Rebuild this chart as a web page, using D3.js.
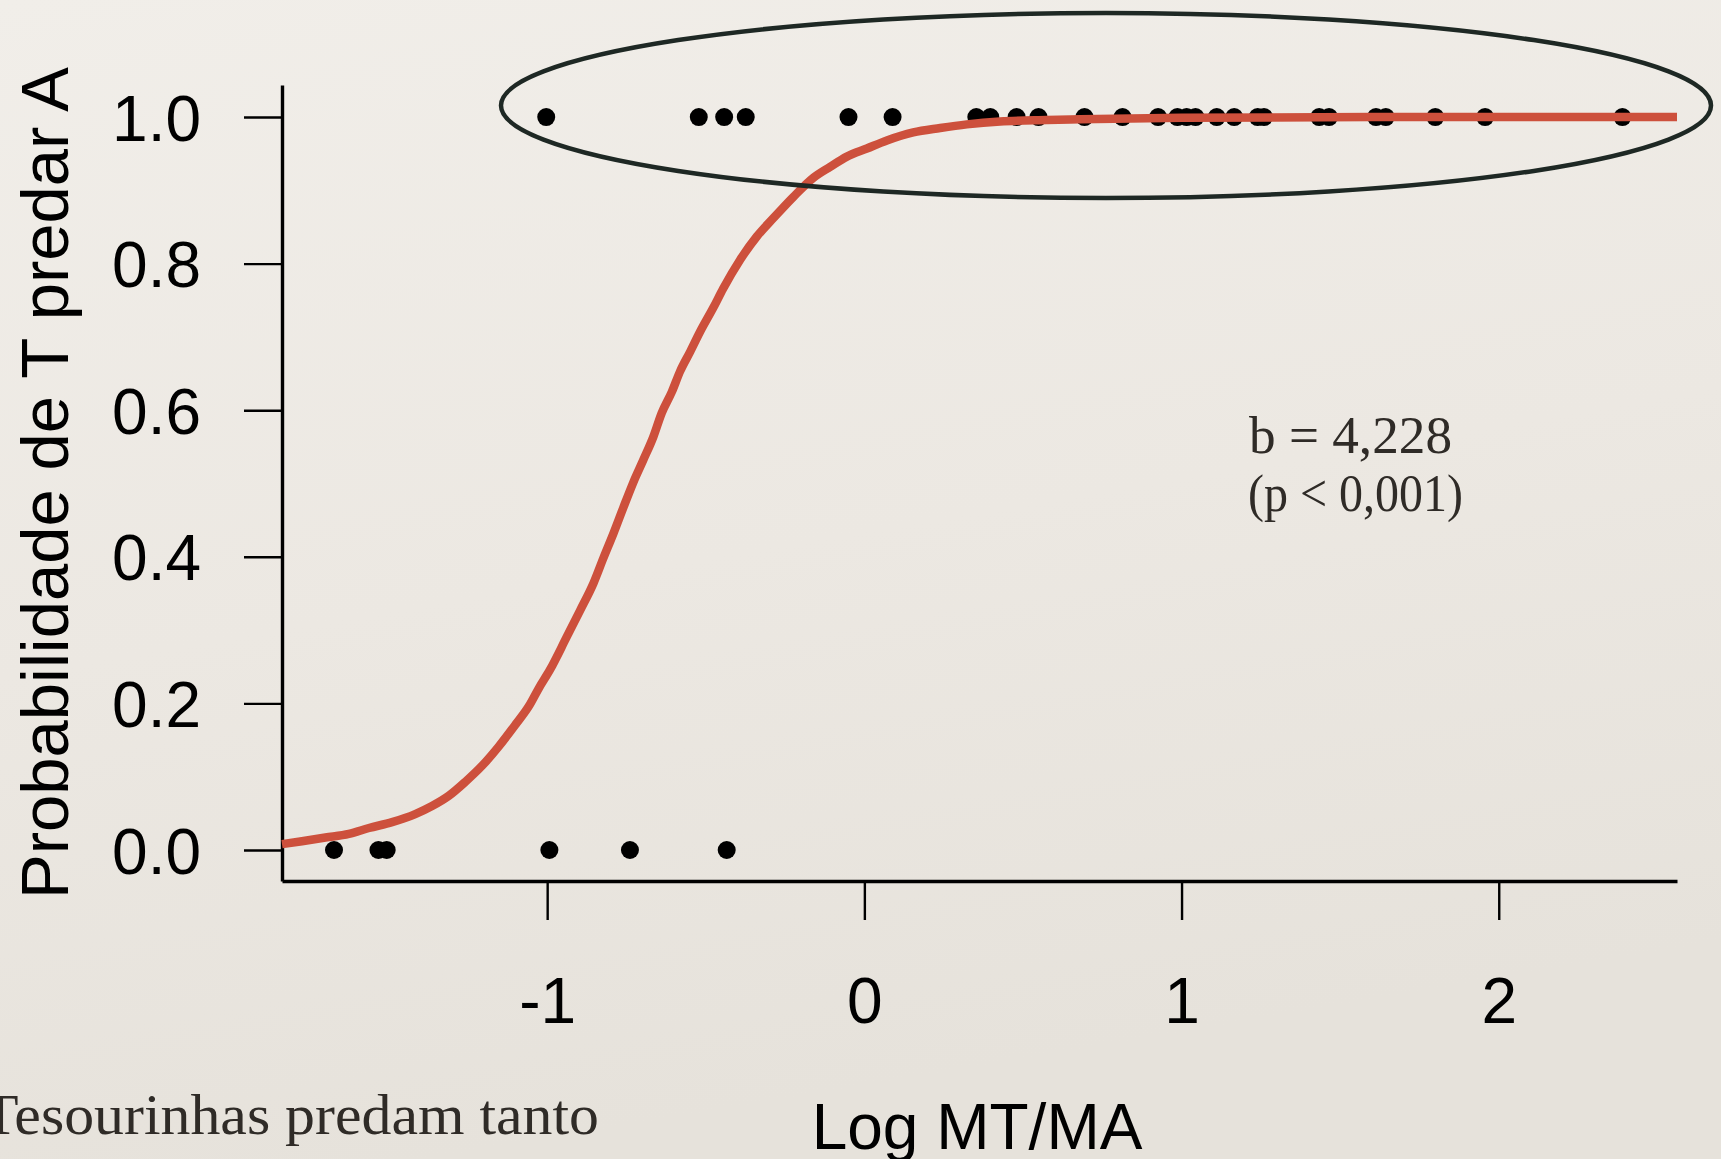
<!DOCTYPE html>
<html>
<head>
<meta charset="utf-8">
<script src="https://cdn.jsdelivr.net/npm/d3@7"></script>
<style>
  html, body { margin: 0; padding: 0; overflow: hidden; }
  body { width: 1721px; height: 1159px; }
</style>
</head>
<body>
<svg id="chart" width="1721" height="1159"></svg>
<script>
// ---- data ----
const pointsAtOne = [-1.003, -0.522, -0.442, -0.374, -0.050, 0.089, 0.353, 0.397, 0.480, 0.549,
  0.694, 0.814, 0.926, 0.987, 1.016, 1.044, 1.111, 1.166, 1.240, 1.260, 1.434, 1.465,
  1.613, 1.644, 1.800, 1.957, 2.390];
const pointsAtZero = [-1.672, -1.532, -1.506, -0.993, -0.739, -0.434];

const curveX = [-1.836, -1.773, -1.699, -1.625, -1.562, -1.489, -1.416, -1.363, -1.310, -1.258,
  -1.205, -1.153, -1.100, -1.058, -1.026, -0.991, -0.938, -0.896, -0.854, -0.823, -0.791,
  -0.760, -0.728, -0.697, -0.665, -0.639, -0.607, -0.581, -0.549, -0.518, -0.476, -0.445,
  -0.392, -0.339, -0.287, -0.224, -0.161, -0.108, -0.055, 0.008, 0.071, 0.154, 0.239,
  0.323, 0.428, 0.575, 0.680, 1.000, 1.600, 2.562];
const curveY = [0.008, 0.012, 0.017, 0.022, 0.030, 0.038, 0.049, 0.060, 0.074, 0.093,
  0.115, 0.141, 0.171, 0.196, 0.221, 0.246, 0.291, 0.327, 0.364, 0.398, 0.432,
  0.467, 0.502, 0.532, 0.564, 0.596, 0.625, 0.653, 0.680, 0.707, 0.740, 0.766,
  0.805, 0.837, 0.862, 0.891, 0.917, 0.932, 0.946, 0.957, 0.968, 0.979, 0.985,
  0.990, 0.994, 0.996, 0.997, 0.999, 1.000, 1.000];

const xTicks = [-1, 0, 1, 2];
const yTicks = [0, 0.2, 0.4, 0.6, 0.8, 1.0];
const yTickLabels = ["0.0", "0.2", "0.4", "0.6", "0.8", "1.0"];

const xTitle = "Log MT/MA";
const yTitle = "Probabilidade de T predar A";
const statLines = ["b = 4,228", "(p < 0,001)"];
const footText = "Tesourinhas predam tanto";

// ---- drawing ----
const svg = d3.select("#chart");
const W = 1721, H = 1159;

const defs = svg.append("defs");
const grad = defs.append("linearGradient").attr("id", "bg")
  .attr("x1", "0").attr("y1", "0").attr("x2", "0.25").attr("y2", "1");
grad.append("stop").attr("offset", "0%").attr("stop-color", "#f1eee9");
grad.append("stop").attr("offset", "55%").attr("stop-color", "#ece8e2");
grad.append("stop").attr("offset", "100%").attr("stop-color", "#e6e2db");
svg.append("rect").attr("width", W).attr("height", H).attr("fill", "url(#bg)");

const x = d3.scaleLinear().domain([-1.836, 2.562]).range([282, 1677]);
const y = d3.scaleLinear().domain([-0.0423, 1.0437]).range([881, 85]);

// axes
const yAxis = d3.axisLeft(y).tickValues(yTicks)
  .tickFormat((d, i) => yTickLabels[i]).tickSizeInner(38).tickSizeOuter(0).tickPadding(43);
const gy = svg.append("g").attr("transform", "translate(282,0)").call(yAxis);
gy.selectAll("text").attr("font-family", "Liberation Sans, Arial, sans-serif")
  .attr("font-size", 64).attr("fill", "#000").attr("dy", "0.36em");
gy.selectAll(".tick line").attr("stroke", "#000").attr("stroke-width", 2.4);
gy.select(".domain").attr("stroke", "#000").attr("stroke-width", 3.4);

const xAxis = d3.axisBottom(x).tickValues(xTicks)
  .tickFormat(d3.format("d")).tickSizeInner(39).tickSizeOuter(0).tickPadding(58);
const gx = svg.append("g").attr("transform", "translate(0,881)").call(xAxis);
gx.selectAll("text").attr("font-family", "Liberation Sans, Arial, sans-serif")
  .attr("font-size", 64).attr("fill", "#000").text(d => d < 0 ? "-" + Math.abs(d) : d);
gx.selectAll(".tick line").attr("stroke", "#000").attr("stroke-width", 2.4);
gx.select(".domain").attr("stroke", "#000").attr("stroke-width", 3.4);

// titles
svg.append("text").attr("x", 977).attr("y", 1149).attr("text-anchor", "middle")
  .attr("font-family", "Liberation Sans, Arial, sans-serif").attr("font-size", 64)
  .attr("fill", "#000").text(xTitle);
svg.append("text").attr("transform", "translate(68,483) rotate(-90)").attr("text-anchor", "middle")
  .attr("font-family", "Liberation Sans, Arial, sans-serif").attr("font-size", 67)
  .attr("fill", "#000").text(yTitle);

// points
const pts = pointsAtOne.map(v => [v, 1]).concat(pointsAtZero.map(v => [v, 0]));
svg.append("g").selectAll("circle").data(pts).join("circle")
  .attr("cx", d => x(d[0])).attr("cy", d => y(d[1])).attr("r", 9).attr("fill", "#000");

// fitted curve
const line = d3.line().x(d => x(d[0])).y(d => y(d[1])).curve(d3.curveMonotoneX);
svg.append("path").datum(curveX.map((v, i) => [v, curveY[i]]))
  .attr("d", line).attr("fill", "none").attr("stroke", "#cd503c")
  .attr("stroke-width", 8.5);

// ellipse highlight
svg.append("ellipse").attr("cx", 1106).attr("cy", 105.5).attr("rx", 605).attr("ry", 92.5)
  .attr("fill", "none").attr("stroke", "#1e2824").attr("stroke-width", 4.5);

// stats text
svg.append("text").attr("x", 1249).attr("y", 453)
  .attr("font-family", "Liberation Serif, Times New Roman, serif").attr("font-size", 52)
  .attr("fill", "#2f2b27").attr("textLength", 203).attr("lengthAdjust", "spacingAndGlyphs")
  .text(statLines[0]);
svg.append("text").attr("x", 1248).attr("y", 511)
  .attr("font-family", "Liberation Serif, Times New Roman, serif").attr("font-size", 52)
  .attr("fill", "#2f2b27").attr("textLength", 215).attr("lengthAdjust", "spacingAndGlyphs")
  .text(statLines[1]);

// footer text (cut at left edge, as in the source slide)
svg.append("text").attr("x", -18).attr("y", 1134)
  .attr("font-family", "Liberation Serif, Times New Roman, serif").attr("font-size", 57)
  .attr("fill", "#2f2b27").attr("textLength", 617).attr("lengthAdjust", "spacingAndGlyphs")
  .text(footText);
</script>
</body>
</html>
